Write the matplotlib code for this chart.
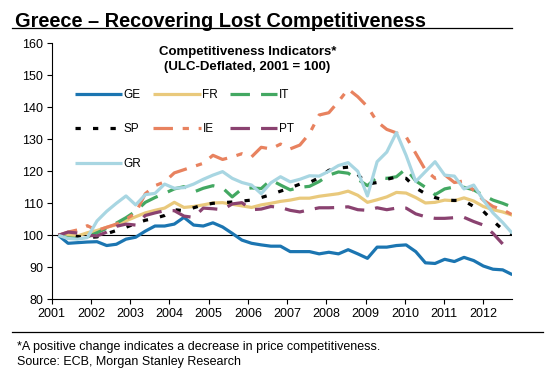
import matplotlib
matplotlib.use("Agg")
import matplotlib.pyplot as plt
import numpy as np

plt.rcParams["font.family"] = ["Liberation Sans", "DejaVu Sans"]
plt.rcParams["lines.scale_dashes"] = False

# quarterly index values, ULC-deflated, 2001 = 100
ge = [100.0, 97.5, 97.7, 97.9, 98.0, 96.8, 97.2, 98.8, 99.4, 101.3, 102.9, 102.9,
      103.5, 105.6, 103.2, 102.9, 103.9, 102.6, 100.6, 98.5, 97.5, 97.0, 96.6, 96.6,
      94.9, 94.9, 94.9, 94.2, 94.7, 94.2, 95.5, 94.2, 92.8, 96.3, 96.3, 96.8,
      97.0, 94.9, 91.4, 91.2, 92.5, 91.8, 93.1, 92.1, 90.4, 89.4, 89.2, 87.7]
fr = [100.0, 100.0, 99.8, 100.8, 101.5, 102.5, 103.3, 104.5, 105.8, 107.0, 107.8, 108.5,
      110.3, 108.7, 109.0, 109.5, 110.1, 110.2, 109.7, 109.2, 108.7, 109.5, 110.0, 110.6,
      111.0, 111.6, 111.6, 112.2, 112.6, 113.0, 113.8, 112.5, 110.3, 111.1, 112.0, 113.4,
      113.2, 111.8, 110.1, 110.3, 111.0, 110.8, 111.7, 110.7, 109.0, 108.0, 107.3, 106.3]
it = [100.0, 99.2, 99.0, 99.5, 100.8, 102.2, 103.8, 105.5, 107.5, 110.3, 111.8, 113.1,
      114.5, 115.2, 113.5, 114.7, 115.5, 114.8, 112.0, 114.5, 114.8, 114.6, 117.3, 115.7,
      114.2, 115.0, 115.3, 116.8, 118.8, 119.8, 119.4, 117.5, 115.5, 118.2, 117.8, 118.3,
      120.8, 117.0, 115.0, 112.7, 114.5, 115.1, 115.0, 114.2, 112.5, 111.0, 110.0, 108.8]
sp = [100.0, 100.2, 99.6, 99.3, 99.5, 100.5, 101.5, 102.5, 103.7, 104.7, 105.3, 106.2,
      108.0, 107.7, 108.6, 109.5, 110.0, 110.2, 110.4, 110.7, 111.0, 111.8, 112.7, 113.8,
      114.8, 116.0, 116.5, 118.0, 120.3, 121.0, 121.3, 119.0, 116.0, 116.5, 117.5, 118.2,
      117.8, 114.8, 113.0, 111.8, 111.0, 110.9, 110.8, 109.0, 107.5, 104.5, 101.8, 100.3]
ie = [100.0, 101.0, 101.7, 103.0, 101.5, 102.5, 103.5, 105.0, 107.0, 113.0, 115.5, 116.7,
      119.5, 120.5, 121.5, 122.5, 125.0, 123.7, 124.5, 125.5, 124.5, 127.5, 127.0, 128.5,
      127.0, 128.2, 131.8, 137.6, 138.3, 141.8, 145.7, 143.3, 140.2, 135.5, 133.1, 132.0,
      130.8, 125.6, 120.4, 117.8, 118.9, 116.5, 117.0, 114.0, 111.0, 109.0, 108.0, 106.4]
pt = [100.0, 101.0, 100.7, 100.0, 99.8, 101.0, 102.8, 103.5, 103.2, 106.2, 107.0, 107.7,
      107.7, 106.0, 105.6, 108.5, 108.3, 108.0, 109.8, 110.2, 108.0, 108.2, 109.0, 108.7,
      107.8, 107.3, 108.0, 108.6, 108.6, 108.7, 108.9, 108.0, 107.8, 108.6, 108.0, 108.5,
      108.5, 106.7, 105.8, 105.3, 105.3, 105.5, 105.6, 104.3, 103.2, 100.6, 97.3]
gr = [100.0, 99.0, 98.8, 99.3, 104.5, 107.5, 110.0, 112.3, 109.5, 112.7, 113.1, 116.0,
      114.7, 114.9, 116.0, 117.5, 118.8, 119.9, 117.8, 116.5, 115.7, 113.0, 116.4, 118.3,
      116.7, 117.5, 118.6, 118.5, 120.0, 121.8, 122.7, 120.0, 112.3, 123.0, 126.0, 132.1,
      125.0, 116.8, 119.9, 123.0, 118.8, 118.5, 114.5, 115.7, 111.0, 107.0, 104.0, 100.6]

years = list(range(2001, 2013))
x = np.linspace(2001.17, 2012.74, len(ge))

series = [
    ("GE", ge, "#1b75b1", "-"),
    ("FR", fr, "#e9c97c", "-"),
    ("IT", it, "#43a862", (0, (14, 8))),
    ("SP", sp, "#000000", (0, (3.8, 8.8))),
    ("IE", ie, "#e8825f", (0, (14, 7, 4.5, 7))),
    ("PT", pt, "#8a4270", (0, (14, 8))),
    ("GR", gr, "#a8d6e2", "-"),
]

fig = plt.figure(figsize=(5.55, 3.73), dpi=100)
ax = fig.add_axes([0.0932, 0.1976, 0.8299, 0.6863])

lines = {}
for name, vals, color, ls in series:
    ln, = ax.plot(x[:len(vals)], vals, color=color, lw=2.3, ls=ls,
                  solid_capstyle="butt", dash_capstyle="butt", label=name)
    lines[name] = ln

ax.axhline(100, color="black", lw=0.8, zorder=1)

ax.set_xlim(2001, 2012.74)
ax.set_ylim(80, 160)
ax.set_xticks(years)
ax.set_xticklabels([str(y) for y in years])
ax.set_yticks(range(80, 161, 10))
ax.spines["top"].set_visible(False)
ax.spines["right"].set_visible(False)
for s in ("left", "bottom"):
    ax.spines[s].set_linewidth(0.8)
ax.tick_params(axis="both", direction="out", length=3.5, width=0.8,
               labelsize=9, pad=2.5)

order = ["GE", "SP", "GR", "FR", "IE", "IT", "PT"]
ax.legend([lines[n] for n in order], order, ncol=3, frameon=False,
          loc="upper left", bbox_to_anchor=(0.04, 0.84), fontsize=8.5,
          handlelength=4.0, handletextpad=0.15, columnspacing=1.0,
          labelspacing=1.9, borderaxespad=0)

ax.text(0.425, 0.99, "Competitiveness Indicators*\n(ULC-Deflated, 2001 = 100)",
        transform=ax.transAxes, ha="center", va="top", fontsize=9.5,
        fontweight="bold", linespacing=1.35)

fig.text(0.027, 0.968, "Greece \u2013 Recovering Lost Competitiveness",
         ha="left", va="top", fontsize=14.4, fontweight="bold")
fig.add_artist(plt.Line2D([0.022, 0.922], [0.925, 0.925], color="black", lw=0.9))
fig.add_artist(plt.Line2D([0.022, 0.978], [0.111, 0.111], color="black", lw=0.9))
fig.text(0.03, 0.07, "*A positive change indicates a decrease in price competitiveness.",
         ha="left", va="center", fontsize=9)
fig.text(0.03, 0.029, "Source: ECB, Morgan Stanley Research",
         ha="left", va="center", fontsize=9)

fig.savefig("out.png", dpi=100)
